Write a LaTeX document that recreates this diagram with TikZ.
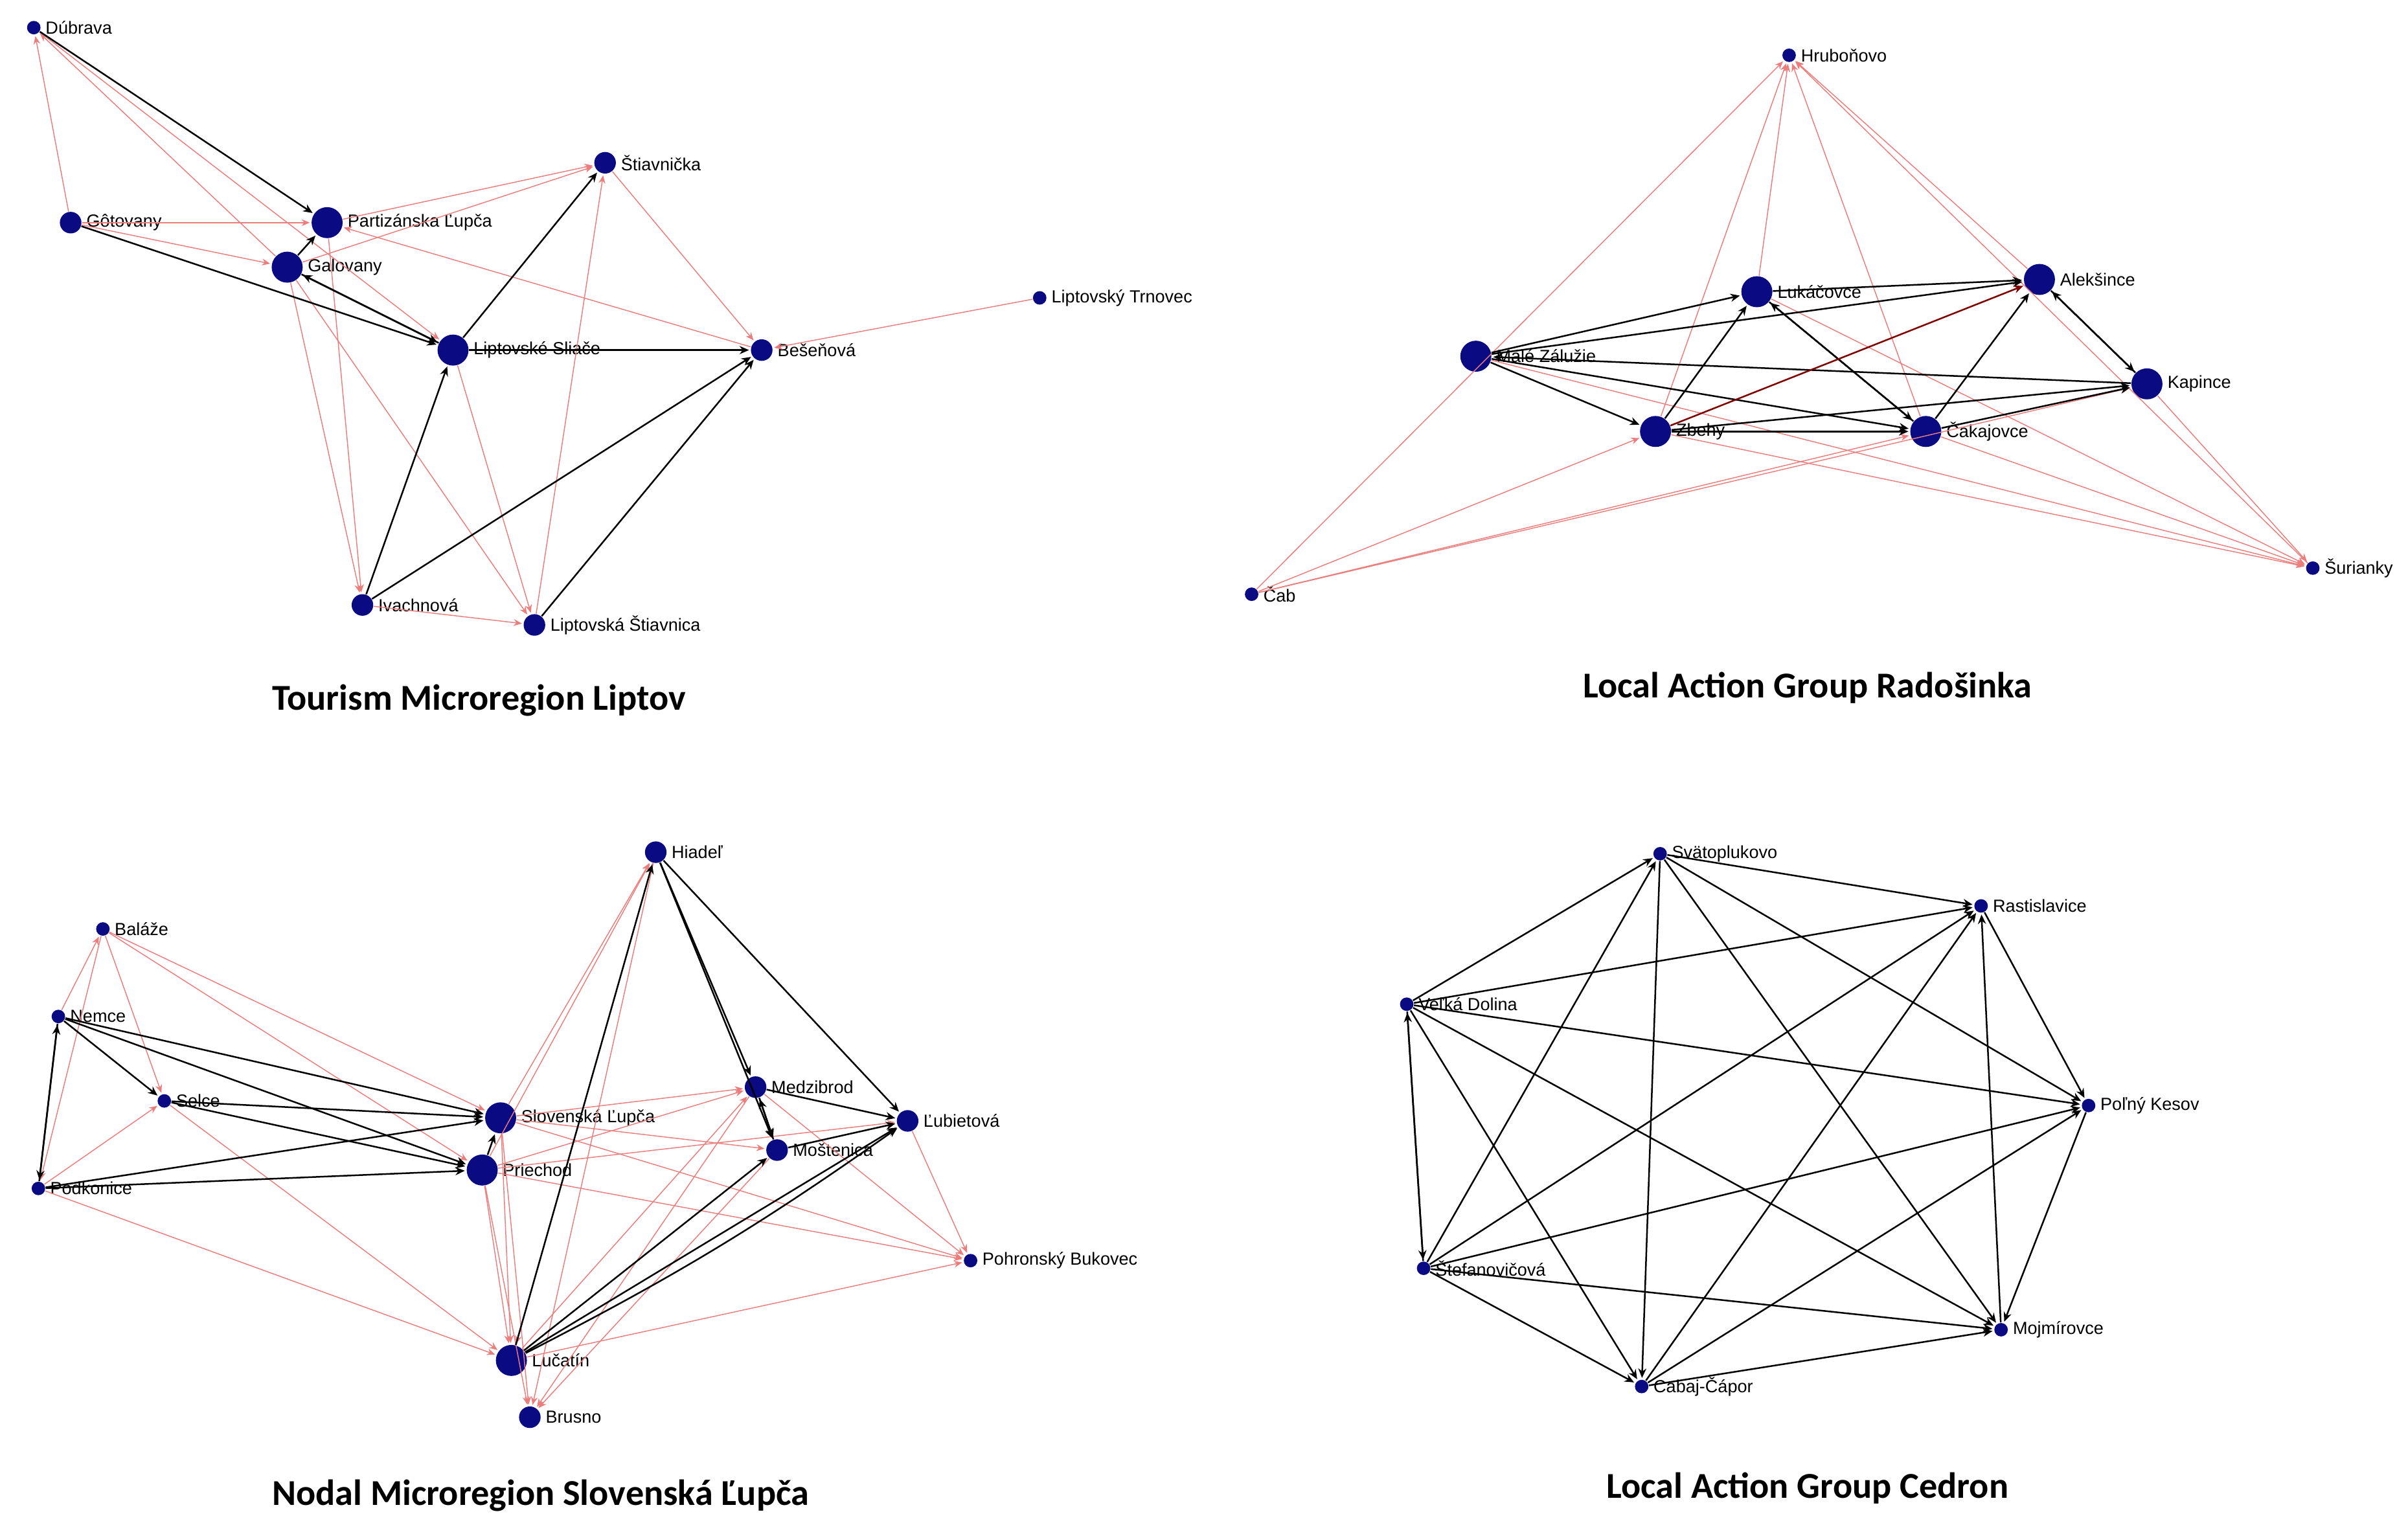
\documentclass[tikz,border=0pt]{standalone}
\usepackage{fontspec}
\setmainfont{Liberation Sans}
\newfontfamily\ttlfont{Carlito}
\usetikzlibrary{arrows.meta}
\definecolor{nv}{RGB}{10,10,130}
\definecolor{rl}{RGB}{235,125,125}
\tikzset{
 v/.style={circle,fill=nv,inner sep=0pt,minimum size=#1},
 lab/.style={font=\fontsize{6.5}{7}\selectfont,anchor=west,inner sep=1pt},
 ttl/.style={font=\ttlfont\bfseries\fontsize{13.5}{15}\selectfont},
 bk/.style={draw=black,line width=0.6pt,-{Stealth[length=3.5pt,width=3pt]},shorten >=0.5pt},
 rd/.style={draw=rl,line width=0.35pt,-{Stealth[length=3pt,width=2.5pt]},shorten >=0.5pt},
}
\newcommand{\nd}[5]{\node[#4] (#1) at (#2,#3) {}; \node[lab] at ([xshift=0.5pt]#1.east) {#5};}
\begin{document}
\begin{tikzpicture}[x=0.02cm,y=-0.02cm]
\useasboundingbox (0,0) rectangle (1568,1000);
\tikzset{L/.style={v=11.5pt},M/.style={v=8pt},S/.style={v=5pt}}
% Liptov
\nd{dub}{22}{18}{S}{Dúbrava}
\nd{got}{46}{145}{M}{Gôtovany}
\nd{par}{213}{145}{L}{Partizánska Ľupča}
\nd{gal}{187}{174}{L}{Galovany}
\nd{sti}{394}{106}{M}{Štiavnička}
\nd{lsl}{295}{228}{L}{Liptovské Sliače}
\nd{bes}{496}{228}{M}{Bešeňová}
\nd{ltr}{677}{194}{S}{Liptovský Trnovec}
\nd{iva}{236}{394}{M}{Ivachnová}
\nd{lst}{348}{407}{M}{Liptovská Štiavnica}
\node[ttl] at (312,456) {Tourism Microregion Liptov};
\foreach \a/\b in {got/dub,got/par,got/gal,gal/dub,gal/sti,par/sti,bes/par,sti/bes,ltr/bes,gal/iva,par/iva,gal/lst,lsl/lst,lst/sti,iva/lst,dub/lsl}
 \draw[rd] (\a) -- (\b);
\foreach \a/\b in {dub/par,got/lsl,gal/par,gal/lsl,lsl/gal,lsl/sti,lsl/bes,iva/lsl,iva/bes,lst/bes}
 \draw[bk] (\a) -- (\b);
% Radosinka
\nd{hru}{1165}{36}{S}{Hruboňovo}
\nd{luk}{1144}{190}{L}{Lukáčovce}
\nd{ale}{1328}{182}{L}{Alekšince}
\nd{mz}{961}{232}{L}{Malé Zálužie}
\nd{kap}{1398}{250}{L}{Kapince}
\nd{zbe}{1078}{281}{L}{Zbehy}
\nd{cak}{1254}{281}{L}{Čakajovce}
\nd{cab}{815}{387}{S}{Čab}
\nd{sur}{1506}{370}{S}{Šurianky}
\node[ttl] at (1177,448) {Local Action Group Radošinka};
\foreach \a/\b in {cab/hru,cab/zbe,cab/cak,cab/kap,zbe/hru,luk/hru,cak/hru,ale/hru,sur/hru,mz/sur,zbe/sur,luk/sur,kap/sur,cak/sur}
 \draw[rd] (\a) -- (\b);
\foreach \a/\b in {mz/luk,mz/ale,mz/zbe,mz/cak,zbe/luk,zbe/kap,zbe/cak,luk/ale,luk/cak,cak/luk,cak/ale,cak/kap,kap/ale,ale/kap,kap/mz}
 \draw[bk] (\a) -- (\b);
\draw[bk,draw=red!50!black] (zbe) -- (ale);
% Slovenska Lupca
\nd{hia}{427}{555}{M}{Hiadeľ}
\nd{bal}{67}{605}{S}{Baláže}
\nd{nem}{38}{662}{S}{Nemce}
\nd{sel}{107}{717}{S}{Selce}
\nd{slu}{326}{728}{L}{Slovenská Ľupča}
\nd{med}{492}{708}{M}{Medzibrod}
\nd{lub}{591}{730}{M}{Ľubietová}
\nd{pri}{314}{762}{L}{Priechod}
\nd{mos}{506}{749}{M}{Moštenica}
\nd{pod}{25}{774}{S}{Podkonice}
\nd{pbu}{632}{821}{S}{Pohronský Bukovec}
\nd{luc}{333}{886}{L}{Lučatín}
\nd{bru}{345}{923}{M}{Brusno}
\node[ttl] at (352,974) {Nodal Microregion Slovenská Ľupča};
\foreach \a/\b in {nem/bal,bal/pod,bal/sel,bal/slu,bal/pri,sel/luc,pod/luc,pod/sel,slu/hia,pri/hia,slu/med,pri/med,slu/mos,pri/lub,slu/pbu,pri/pbu,med/pbu,lub/pbu,luc/pbu,slu/luc,pri/luc,slu/bru,pri/bru,hia/bru,med/bru,mos/bru,hia/luc,luc/med}
 \draw[rd] (\a) -- (\b);
\foreach \a/\b in {nem/slu,nem/pri,nem/sel,sel/slu,sel/pri,pod/slu,pod/pri,pod/nem,nem/pod,pri/slu,luc/hia,hia/med,hia/mos,hia/lub,luc/mos,luc/lub,med/mos,mos/med,mos/lub,med/lub}
 \draw[bk] (\a) -- (\b);
\draw[bk] (luc) to[bend right=4] (lub);
% Cedron
\nd{sva}{1081}{556}{S}{Svätoplukovo}
\nd{ras}{1290}{590}{S}{Rastislavice}
\nd{vdo}{916}{654}{S}{Veľká Dolina}
\nd{pke}{1360}{720}{S}{Poľný Kesov}
\nd{ste}{927}{826}{S}{Štefanovičová}
\nd{moj}{1303}{866}{S}{Mojmírovce}
\nd{cca}{1069}{903}{S}{Cabaj-Čápor}
\node[ttl] at (1177,969) {Local Action Group Cedron};
\foreach \a/\b in {sva/ras,vdo/sva,ste/sva,sva/cca,sva/moj,sva/pke,vdo/ras,ste/ras,cca/ras,moj/ras,ras/pke,vdo/pke,ste/pke,cca/pke,pke/moj,vdo/ste,ste/vdo,vdo/cca,vdo/moj,ste/moj,ste/cca,cca/moj}
 \draw[bk] (\a) -- (\b);
\end{tikzpicture}
\end{document}
